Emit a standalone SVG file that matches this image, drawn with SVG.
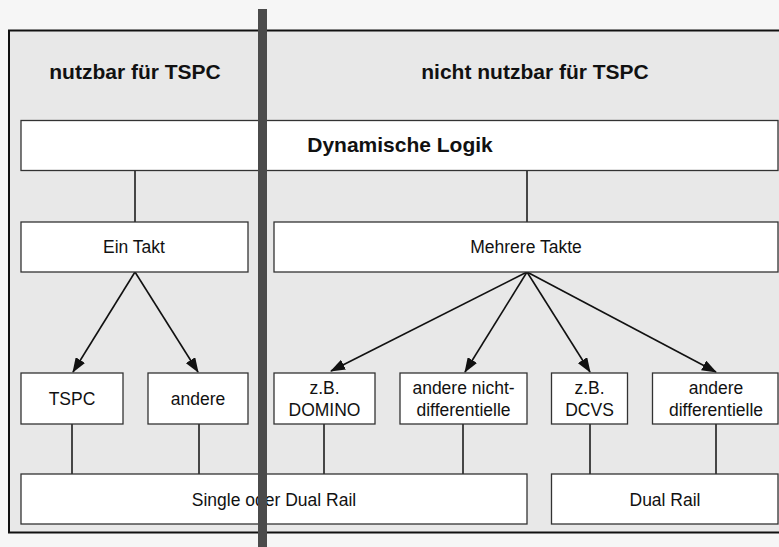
<svg xmlns="http://www.w3.org/2000/svg" width="779" height="547" viewBox="0 0 779 547">
<style>
.box{fill:#fff;stroke:#333;stroke-width:1.3}
.t{font-family:"Liberation Sans",Arial,sans-serif;font-size:17.5px;fill:#111;text-anchor:middle}
.b{font-family:"Liberation Sans",Arial,sans-serif;font-size:21px;font-weight:bold;fill:#111;text-anchor:middle}
.ln{stroke:#111;stroke-width:1.5;fill:none}
.ar{stroke:#111;stroke-width:1.6;fill:none;marker-end:url(#ah)}
</style>
<defs>
<marker id="ah" viewBox="0 0 15 11" refX="14" refY="5.5" markerWidth="15" markerHeight="11" markerUnits="userSpaceOnUse" orient="auto">
<path d="M0,0 L15,5.5 L0,11 Z" fill="#111"/>
</marker>
</defs>
<rect x="0" y="0" width="779" height="547" fill="#f6f6f6"/>
<g id="panel">
<rect x="9" y="30.5" width="800" height="502" fill="#e8e8e8" stroke="#111" stroke-width="2"/>
<text class="b" x="135" y="79">nutzbar für TSPC</text>
<text class="b" x="535" y="79">nicht nutzbar für TSPC</text>
</g>
<g id="connectors">
<line class="ln" x1="135" y1="171" x2="135" y2="222"/>
<line class="ln" x1="527" y1="171" x2="527" y2="222"/>
<line class="ar" x1="135" y1="272" x2="73" y2="372"/>
<line class="ar" x1="135" y1="272" x2="198" y2="372"/>
<line class="ar" x1="527" y1="272" x2="331" y2="371"/>
<line class="ar" x1="527" y1="272" x2="465" y2="372"/>
<line class="ar" x1="527" y1="272" x2="590" y2="372"/>
<line class="ar" x1="527" y1="272" x2="716" y2="372"/>
<line class="ln" x1="72" y1="424" x2="72" y2="474"/>
<line class="ln" x1="199" y1="424" x2="199" y2="474"/>
<line class="ln" x1="324" y1="424" x2="324" y2="474"/>
<line class="ln" x1="463" y1="424" x2="463" y2="474"/>
<line class="ln" x1="590" y1="424" x2="590" y2="474"/>
<line class="ln" x1="716" y1="424" x2="716" y2="474"/>
</g>
<g id="dyn"><rect class="box" x="21" y="120.5" width="757" height="50"/><text class="b" x="400" y="152">Dynamische Logik</text></g>
<g id="eintakt"><rect class="box" x="21" y="222" width="227" height="50"/><text class="t" x="134" y="253">Ein Takt</text></g>
<g id="mehrere"><rect class="box" x="274" y="222" width="504" height="50"/><text class="t" x="526" y="253">Mehrere Takte</text></g>
<g id="tspc"><rect class="box" x="21" y="373" width="102" height="51"/><text class="t" x="72" y="405">TSPC</text></g>
<g id="andere"><rect class="box" x="148" y="373" width="100" height="51"/><text class="t" x="198" y="405">andere</text></g>
<g id="domino"><rect class="box" x="274" y="373" width="101" height="51"/><text class="t" x="324.5" y="394">z.B.</text><text class="t" x="324.5" y="416">DOMINO</text></g>
<g id="nichtdiff"><rect class="box" x="400" y="373" width="127" height="51"/><text class="t" x="463.5" y="394">andere nicht-</text><text class="t" x="463.5" y="416">differentielle</text></g>
<g id="dcvs"><rect class="box" x="551.5" y="373" width="76" height="51"/><text class="t" x="589.5" y="394">z.B.</text><text class="t" x="589.5" y="416">DCVS</text></g>
<g id="diff"><rect class="box" x="652.5" y="373" width="125.5" height="51"/><text class="t" x="716" y="394">andere</text><text class="t" x="716" y="416">differentielle</text></g>
<g id="single"><rect class="box" x="21" y="474" width="506" height="50"/><text class="t" x="274" y="506">Single oder Dual Rail</text></g>
<g id="dual"><rect class="box" x="551.5" y="474" width="226.5" height="50"/><text class="t" x="665" y="506">Dual Rail</text></g>
<g id="divider"><rect x="258" y="9" width="9" height="538" fill="#4b4b4b"/></g>
</svg>
